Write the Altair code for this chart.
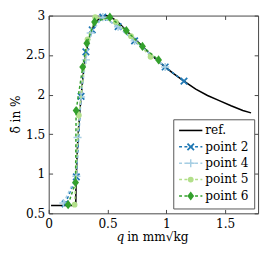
import altair as alt
import pandas as pd

FONT = "DejaVu Serif"
FS = 12.5

# reference curve
ref_q = [0.02, 0.23, 0.232, 0.24, 0.25, 0.265, 0.28, 0.30, 0.32, 0.35, 0.39, 0.44, 0.48, 0.52, 0.58,
         0.66, 0.75, 0.85, 0.95, 1.05, 1.15, 1.25, 1.35, 1.45, 1.55, 1.65, 1.72]
ref_d = [0.60, 0.60, 0.85, 1.20, 1.50, 1.80, 2.05, 2.35, 2.55, 2.75, 2.90, 2.98, 3.00, 2.99, 2.93,
         2.81, 2.68, 2.53, 2.40, 2.28, 2.17, 2.07, 1.99, 1.925, 1.86, 1.80, 1.77]

series_names = ["point 2", "point 4", "point 5", "point 6"]
series_colors = ["#1f78b4", "#a6cee3", "#b2df8a", "#33a02c"]

p2_q = [0.14, 0.235, 0.275, 0.316, 0.37, 0.46, 0.59, 0.73, 0.99, 1.15]
p2_d = [0.62, 0.96, 1.98, 2.54, 2.82, 2.98, 2.86, 2.68, 2.35, 2.17]
p4_q = [0.125, 0.235, 0.245, 0.275, 0.316, 0.357, 0.46, 0.59, 0.73, 0.99]
p4_d = [0.63, 0.97, 1.46, 1.97, 2.44, 2.78, 2.98, 2.86, 2.68, 2.35]
p5_q = [0.22, 0.256, 0.33, 0.395, 0.57, 0.70, 0.866]
p5_d = [0.61, 1.74, 2.70, 2.98, 2.92, 2.74, 2.48]
p6_q = [0.165, 0.228, 0.233, 0.289, 0.324, 0.39, 0.52, 0.66, 0.797, 0.934]
p6_d = [0.61, 0.89, 1.80, 2.35, 2.65, 2.92, 2.98, 2.81, 2.61, 2.44]

x_ticks = [0, 0.5, 1, 1.5]
y_ticks = [0.5, 1, 1.5, 2, 2.5, 3]

W, H = 216, 204
TOP = 4
xs = alt.Scale(domain=[0, 1.78], nice=False, zero=False)
ys = alt.Scale(domain=[0.5, 3], nice=False, zero=False)

shapes = [
    ("M-1,-1L1,1M-1,1L1,-1", False, 45, 1.8),
    ("M-1,0L1,0M0,-1L0,1", False, 70, 1.5),
    ("circle", True, 36, 0),
    ("M0,-1L0.75,0L0,1L-0.75,0Z", True, 90, 0),
]

ref_df = pd.DataFrame({"q": ref_q, "d": ref_d})

x_main = alt.X("q:Q", scale=xs, axis=alt.Axis(
    orient="bottom", values=x_ticks, offset=-4, tickSize=4, tickColor="#444", domain=False, grid=False,
    labelFont=FONT, labelFontSize=FS, labelColor="black", labelPadding=5, labelFlush=False,
    format="~g", title=None))
y_main = alt.Y("d:Q", scale=ys, axis=alt.Axis(
    orient="left", values=y_ticks, offset=-4, tickSize=4, tickColor="#444", domain=False, grid=False,
    labelFont=FONT, labelFontSize=FS, labelColor="black", labelPadding=4,
    format="~g", title=None))

layers = [alt.Chart(ref_df).mark_line(color="black", strokeWidth=1.6).encode(x=x_main, y=y_main)]

data_sets = [(p2_q, p2_d), (p4_q, p4_d), (p5_q, p5_d), (p6_q, p6_d)]
for (qv, dv), name, col, (shp, filled, size, sw) in zip(data_sets, series_names, series_colors, shapes):
    df = pd.DataFrame({"q": qv, "d": dv})
    layers.append(alt.Chart(df).mark_line(color=col, strokeWidth=1.5, strokeDash=[3, 2.5]).encode(
        x=alt.X("q:Q", scale=xs), y=alt.Y("d:Q", scale=ys)))
    if filled:
        pm = alt.Chart(df).mark_point(shape=shp, filled=True, fill=col, size=size, opacity=1, strokeWidth=0)
    else:
        pm = alt.Chart(df).mark_point(shape=shp, filled=False, stroke=col, size=size, opacity=1, strokeWidth=sw)
    layers.append(pm.encode(x=alt.X("q:Q", scale=xs), y=alt.Y("d:Q", scale=ys)))

# legend (pixel layout within plot area)
one = pd.DataFrame({"a": [0]})
OY = TOP - 1
LX0, LX1, LY0, LY1 = 129, 212.5, 110.5 - OY, 202.5 - OY
layers.append(alt.Chart(one).mark_rect(fill="white", stroke="#555", strokeWidth=1).encode(
    x=alt.value(LX0), x2=alt.value(LX1), y=alt.value(LY0), y2=alt.value(LY1)))
leg_names = ["ref."] + series_names
leg_colors = ["black"] + series_colors
for i, (nm, col) in enumerate(zip(leg_names, leg_colors)):
    yy = 121.5 - OY + 16.9 * i
    if i == 0:
        layers.append(alt.Chart(one).mark_rule(color=col, strokeWidth=1.6).encode(
            x=alt.value(134.5), x2=alt.value(158.5), y=alt.value(yy)))
    else:
        layers.append(alt.Chart(one).mark_rule(color=col, strokeWidth=1.5, strokeDash=[3, 2.5]).encode(
            x=alt.value(134.5), x2=alt.value(158.5), y=alt.value(yy)))
        shp, filled, size, sw = shapes[i - 1]
        if filled:
            pm = alt.Chart(one).mark_point(shape=shp, filled=True, fill=col, size=size, opacity=1, strokeWidth=0)
        else:
            pm = alt.Chart(one).mark_point(shape=shp, filled=False, stroke=col, size=size, opacity=1, strokeWidth=sw)
        layers.append(pm.encode(x=alt.value(146.5), y=alt.value(yy)))
    layers.append(alt.Chart(one).mark_text(text=nm, font=FONT, fontSize=FS, align="left", baseline="middle",
                                           color="black").encode(x=alt.value(161.5), y=alt.value(yy)))

# axis titles
TY = 231.5 - OY
layers.append(alt.Chart(one).mark_text(text="q", font=FONT, fontSize=FS, fontStyle="italic", align="right",
                                       baseline="middle", color="black").encode(x=alt.value(78), y=alt.value(TY)))
layers.append(alt.Chart(one).mark_text(text="in mm\u221akg", font=FONT, fontSize=FS, align="left",
                                       baseline="middle", color="black").encode(x=alt.value(81), y=alt.value(TY)))
layers.append(alt.Chart(one).mark_text(text="\u03b4\u0304 in %", font=FONT, fontSize=FS, angle=270, align="center",
                                       baseline="middle", color="black").encode(x=alt.value(-34), y=alt.value(105 - OY)))

inner = alt.layer(*layers)

tick_layer = alt.Chart(ref_df).mark_line(opacity=0).encode(
    x=alt.X("q:Q", scale=xs, axis=alt.Axis(orient="top", values=x_ticks, offset=-4, tickSize=4, tickColor="#444",
                                            domain=False, grid=False, labels=False, title=None)),
    y=alt.Y("d:Q", scale=ys, axis=alt.Axis(orient="right", values=y_ticks, offset=-4, tickSize=4, tickColor="#444",
                                            domain=False, grid=False, labels=False, title=None)))

chart = alt.layer(inner, tick_layer).resolve_scale(x="independent", y="independent").properties(
    width=W, height=H,
    padding={"left": 42, "top": TOP, "right": 3, "bottom": 34},
    autosize=alt.AutoSizeParams(type="none"),
).configure_view(stroke="#444", strokeWidth=1)

chart.save("out.html", embed_options={"renderer": "svg", "actions": False})
